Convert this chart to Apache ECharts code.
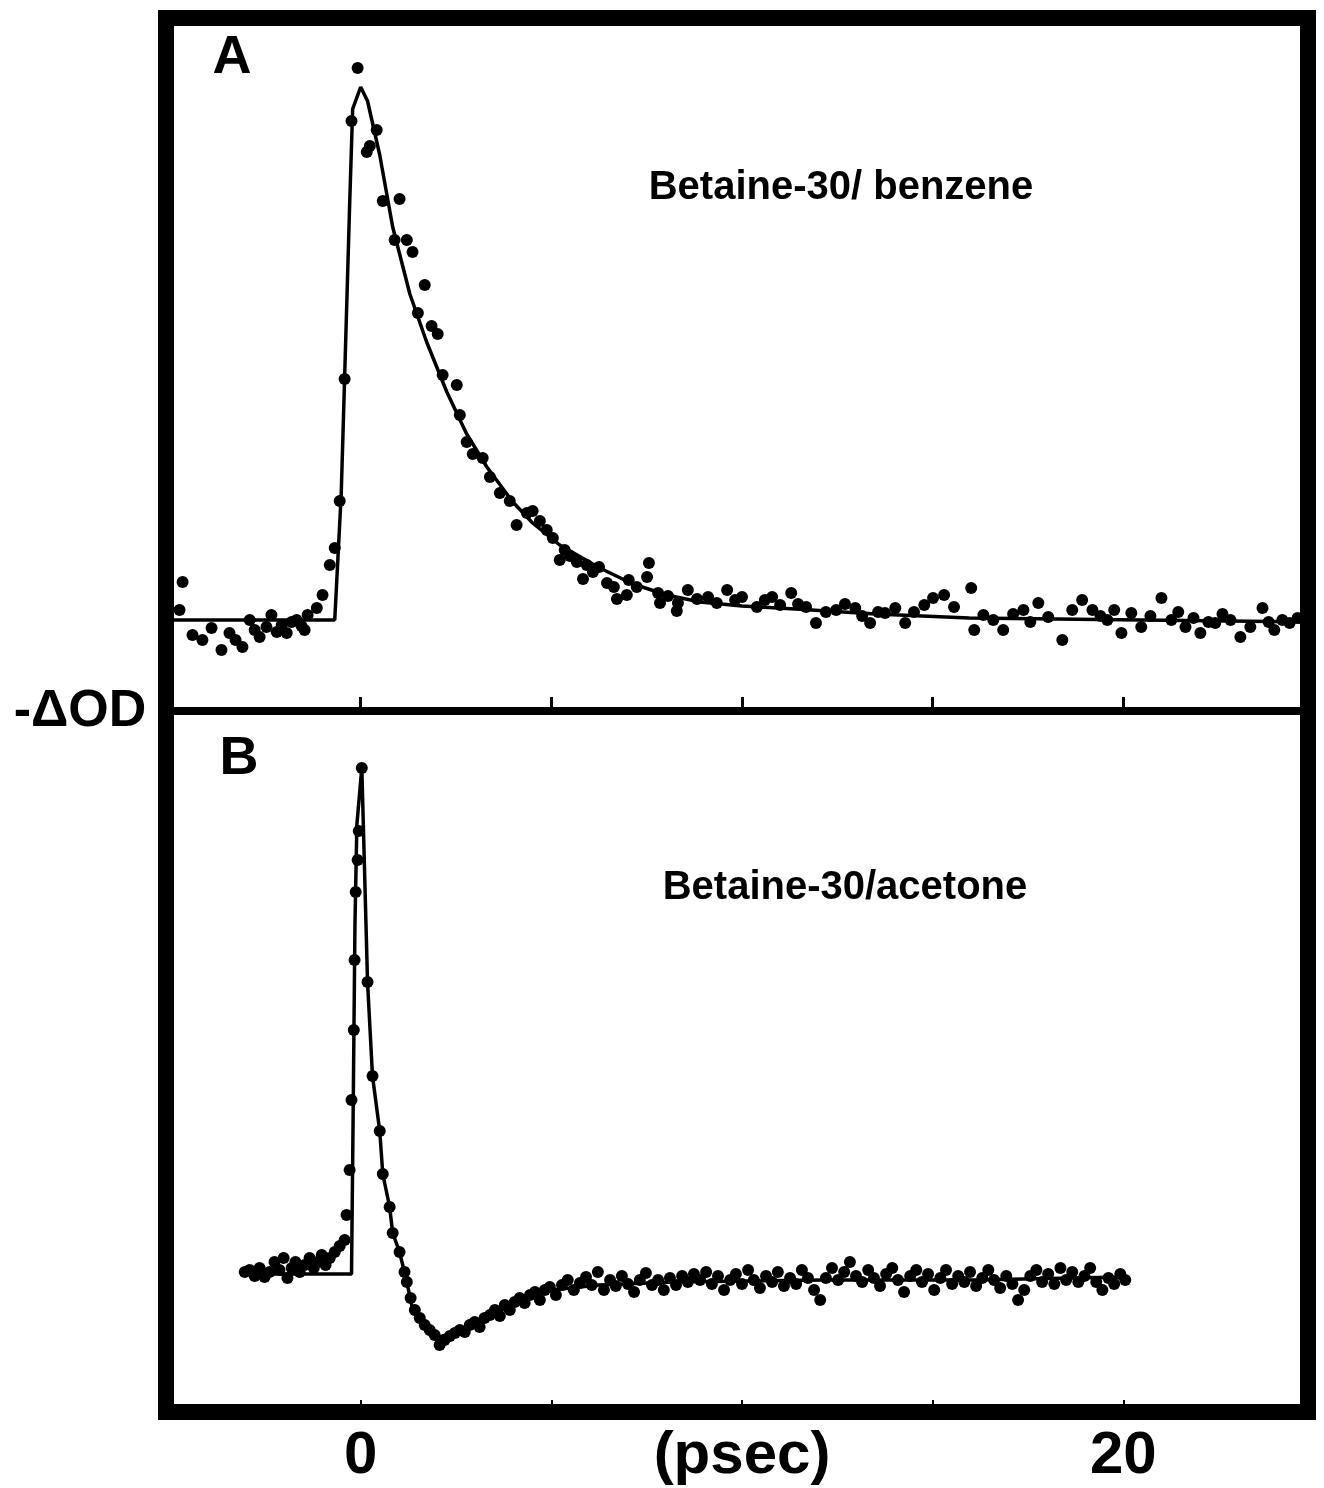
<!DOCTYPE html>
<html>
<head>
<meta charset="utf-8">
<script src="https://cdn.jsdelivr.net/npm/echarts@6/dist/echarts.min.js"></script>
<style>
html,body{margin:0;padding:0;background:#fff;}
#chart{width:1324px;height:1488px;}
</style>
</head>
<body>
<div id="chart"></div>
<script>
// ---- data (time in psec, -ΔOD in arbitrary units) ----
const xMin = -5, xMax = 25, xInterval = 5;
const xTickLabels = {0: '0', 10: '(psec)', 20: '20'};

const benzeneFit = [[-5,0],[-0.68,0],[-0.51,25.2],[-0.42,48.6],[-0.29,82.8],[-0.21,102.2],[0,106.6],[0.18,103.8],[0.5,93],[0.84,78.6],[1.29,65.2],[1.73,55.6],[2.26,45.6],[2.78,37.2],[3.31,30.6],[3.99,23.6],[4.51,19.4],[5.22,15],[6.27,10.4],[7.14,7.2],[8.03,5],[8.9,3.6],[10,2.8],[11.4,2.2],[13.5,1.2],[15.96,0.4],[20.5,0],[25,-0.4]];

const benzeneDots = [[-4.67,7.6],[-4.75,2.0],[-4.41,-3.0],[-4.15,-4.0],[-3.91,-1.6],[-3.65,-6.0],[-3.44,-2.6],[-3.28,-4.0],[-3.10,-5.4],[-2.91,0],[-2.78,-2.0],[-2.65,-3.4],[-2.47,-1.4],[-2.34,1.0],[-2.20,-2.4],[-2.07,-1.0],[-1.94,-2.6],[-1.81,-0.4],[-1.68,0],[-1.55,-1.2],[-1.47,-2.0],[-1.39,1.0],[-1.15,2.4],[-1.00,5.0],[-0.81,11.0],[-0.68,14.4],[-0.55,23.8],[-0.42,48.2],[-0.24,99.8],[-0.08,110.4],
[0.16,93.6],[0.24,94.8],[0.42,98.0],[0.58,83.8],[0.89,76.0],[1.02,84.2],[1.21,76.0],[1.36,73.6],[1.50,61.4],[1.68,67.0],[1.86,58.8],[2.02,57.2],[2.15,49.0],[2.52,47.0],[2.60,41.0],[2.78,35.6],[2.94,33.2],[3.20,32.4],[3.39,28.6],[3.65,25.4],[3.91,23.8],[4.09,19.0],[4.36,21.4],[4.51,21.8],[4.70,19.8],[4.88,18.0],[5.04,16.4],[5.22,12.0],[5.35,14.0],[5.49,12.8],[5.67,11.6],[5.83,8.2],[5.93,11.0],[6.09,9.6],[6.25,10.6],[6.46,7.4],[6.64,6.6],[6.72,4.2],[6.98,5.0],[7.03,8.0],[7.24,6.6],[7.51,8.6],[7.56,11.4],[7.80,5.4],[7.85,3.4],[8.06,4.8],[8.29,1.8],[8.32,3.4],[8.58,6.0],[8.82,4.2],[9.11,4.6],[9.34,3.4],[9.61,6.0],[9.82,4.0],[10.0,4.6],[10.39,2.6],[10.60,4.0],[10.79,4.6],[11.0,3.0],[11.29,5.4],[11.47,3.2],[11.68,2.6],[11.94,-0.6],[12.20,1.6],[12.47,2.0],[12.70,3.2],[12.97,2.4],[13.15,0.8],[13.36,-0.6],[13.57,1.6],[13.75,1.4],[14.02,2.4],[14.28,-0.6],[14.51,1.6],[14.78,3.0],[15.01,4.4],[15.30,5.0],[15.56,2.6],[16.01,6.4],[16.09,-2.0],[16.33,1.0],[16.59,0],[16.85,-2.0],[17.11,1.2],[17.38,2.0],[17.56,-0.4],[17.77,3.4],[18.03,0.6],[18.40,-4.0],[18.66,2.0],[18.92,4.0],[19.19,2.0],[19.40,0.8],[19.58,0],[19.76,2.0],[19.95,-2.6],[20.21,1.4],[20.47,-1.4],[20.71,0.8],[21.0,4.4],[21.26,0],[21.44,1.6],[21.63,-1.4],[21.84,0.4],[22.02,-2.6],[22.23,-0.4],[22.41,-0.6],[22.60,1.2],[22.81,0],[23.07,-3.4],[23.33,-1.4],[23.65,2.4],[23.81,-0.4],[23.96,-2.0],[24.17,0],[24.36,-0.6],[24.57,0.4],[24.75,0]];

const acetoneFit = [[-3.1,0.2],[-0.37,0.2],[-0.24,0.2],[-0.2,30],[-0.15,70],[-0.1,90],[0.03,101.4],[0.18,58.6],[0.31,39.8],[0.5,28.8],[0.58,20.2],[0.76,13.6],[0.84,8.4],[1.02,4.6],[1.21,-1.4],[1.36,-6.8],[1.73,-10],[2.07,-12.4],[2.41,-11.6],[2.94,-10],[3.73,-6.8],[4.17,-4.4],[5,-3],[6.25,-2],[8.2,-1.4],[12.15,-1],[16.06,-1],[20,-0.4]];

const acetoneDots = [[-3.04,0.6],[-2.91,1.0],[-2.78,-0.2],[-2.65,1.4],[-2.52,-0.4],[-2.39,0.6],[-2.26,2.6],[-2.13,1.0],[-2.02,3.4],[-1.92,-0.6],[-1.81,1.4],[-1.71,2.6],[-1.60,0.6],[-1.47,2.0],[-1.34,3.4],[-1.23,1.4],[-1.13,2.6],[-1.02,4.0],[-0.92,2.0],[-0.81,3.4],[-0.68,4.6],[-0.55,5.8],[-0.42,7.0],[-0.37,12.0],[-0.29,21.0],[-0.24,35.0],[-0.18,49.0],[-0.16,63.0],[-0.13,76.6],[-0.08,83.0],[-0.05,88.8],[0.03,101.4],
[0.18,58.6],[0.31,39.8],[0.50,28.8],[0.58,20.2],[0.76,13.6],[0.84,8.4],[1.02,4.6],[1.15,0.6],[1.21,-1.4],[1.31,-4.6],[1.42,-7.0],[1.55,-8.6],[1.68,-10.0],[1.81,-11.0],[1.94,-12.0],[2.07,-14.0],[2.20,-13.0],[2.34,-12.2],[2.47,-11.6],[2.60,-11.0],[2.73,-11.4],[2.86,-10.0],[2.99,-9.4],[3.12,-10.4],[3.25,-8.6],[3.39,-8.0],[3.52,-7.0],[3.65,-8.2],[3.78,-6.0],[3.91,-7.0],[4.04,-5.4],[4.17,-4.6],[4.30,-5.6],[4.44,-4.0],[4.57,-3.4],[4.70,-5.0],[4.83,-3.0],[4.96,-2.4],[5.12,-4.0],[5.28,-2.0],[5.43,-1.0],[5.59,-3.0],[5.75,-1.6],[5.91,-0.4],[6.06,-2.0],[6.22,0.6],[6.38,-3.0],[6.54,-1.0],[6.69,-2.2],[6.85,-0.2],[7.01,-1.8],[7.17,-3.4],[7.32,-1.0],[7.48,0.4],[7.64,-2.0],[7.80,-1.0],[7.95,-3.0],[8.11,-0.6],[8.27,-2.0],[8.43,-0.2],[8.58,-1.4],[8.74,0.2],[8.90,-1.0],[9.06,0.6],[9.21,-1.8],[9.37,-0.2],[9.53,-3.0],[9.69,-1.0],[9.84,0.2],[10.0,-1.8],[10.16,1.0],[10.31,-1.0],[10.47,-2.6],[10.63,-0.2],[10.79,-1.4],[10.94,0.6],[11.10,-2.2],[11.26,-0.6],[11.42,-1.8],[11.57,1.0],[11.73,-0.6],[11.89,-3.0],[12.05,-5.0],[12.20,-0.6],[12.36,1.4],[12.52,-1.0],[12.68,0.6],[12.83,2.6],[12.99,-0.2],[13.15,-1.4],[13.31,1.0],[13.46,-0.6],[13.62,-2.2],[13.78,0.2],[13.94,1.4],[14.09,-1.0],[14.25,-3.4],[14.41,-0.2],[14.57,1.0],[14.72,-1.4],[14.88,0.2],[15.04,-3.0],[15.20,-0.6],[15.35,1.0],[15.51,-1.8],[15.67,-0.2],[15.83,-1.4],[15.98,0.6],[16.14,-2.2],[16.30,-0.6],[16.46,1.0],[16.61,-1.0],[16.77,-2.6],[16.93,-0.2],[17.09,-1.8],[17.24,-5.0],[17.40,-3.0],[17.56,-0.2],[17.72,1.0],[17.87,-1.4],[18.03,0.2],[18.19,-1.8],[18.35,1.4],[18.50,-1.0],[18.66,0.6],[18.82,-1.4],[18.98,-0.2],[19.13,1.4],[19.29,-1.4],[19.45,-3.0],[19.61,-0.6],[19.76,-1.8],[19.92,0.2],[20.05,-1.0]];

// ---- layout ----
const GL = 170, GR = 1314;               // plot area (x scale)
const FL = 166, FR = 1308;               // drawn frame
const T = 18, MID = 711, BOT = 1412;
const FONT = '"Liberation Sans", Arial, Helvetica, sans-serif';

const chart = echarts.init(document.getElementById('chart'), null, {renderer: 'canvas'});

function xAxisBase(idx) {
  return {
    gridIndex: idx, type: 'value', min: xMin, max: xMax, interval: xInterval,
    position: 'bottom', splitLine: {show: false}
  };
}

const option = {
  animation: false,
  backgroundColor: '#fff',
  grid: [
    {left: GL, top: T, width: GR - GL, height: MID - T},
    {left: GL, top: MID, width: GR - GL, height: BOT - MID}
  ],
  xAxis: [
    Object.assign(xAxisBase(0), {
      axisLine: {show: true, onZero: false, lineStyle: {color: '#000', width: 8}},
      axisTick: {show: true, inside: true, length: 14, lineStyle: {color: '#000', width: 3}},
      axisLabel: {show: false}
    }),
    Object.assign(xAxisBase(1), {
      axisLine: {show: false, onZero: false},
      axisTick: {show: true, inside: true, length: 12, lineStyle: {color: '#000', width: 2}},
      axisLabel: {
        show: true, margin: 14, color: '#000',
        fontFamily: FONT, fontWeight: 'bold', fontSize: 60,
        formatter: v => xTickLabels[v] !== undefined ? xTickLabels[v] : ''
      }
    })
  ],
  yAxis: [
    {gridIndex: 0, type: 'value', min: -18.2, max: 120.4, show: false},
    {gridIndex: 1, type: 'value', min: -27.4, max: 112.8, show: false}
  ],
  series: [
    {type: 'line', xAxisIndex: 0, yAxisIndex: 0, data: benzeneFit, symbol: 'none',
     lineStyle: {color: '#000', width: 3.5}, z: 3},
    {type: 'scatter', xAxisIndex: 0, yAxisIndex: 0, data: benzeneDots, symbolSize: 12,
     itemStyle: {color: '#000', opacity: 1}, z: 4},
    {type: 'line', xAxisIndex: 1, yAxisIndex: 1, data: acetoneFit, symbol: 'none',
     lineStyle: {color: '#000', width: 3.5}, z: 3},
    {type: 'scatter', xAxisIndex: 1, yAxisIndex: 1, data: acetoneDots, symbolSize: 12,
     itemStyle: {color: '#000', opacity: 1}, z: 4}
  ],
  graphic: [
    {type: 'rect', z: 100, shape: {x: FL, y: T, width: FR - FL, height: BOT - T},
     style: {fill: 'none', stroke: '#000', lineWidth: 16}},
    {type: 'rect', z: 99, shape: {x: FR + 8, y: 0, width: 40, height: 1488},
     style: {fill: '#fff', stroke: 'none'}},
    {type: 'text', z: 101, x: 232, y: 58, style: {text: 'A', fill: '#000', font: 'bold 54px ' + FONT, textAlign: 'center', textVerticalAlign: 'middle'}},
    {type: 'text', z: 101, x: 239, y: 759, style: {text: 'B', fill: '#000', font: 'bold 54px ' + FONT, textAlign: 'center', textVerticalAlign: 'middle'}},
    {type: 'text', z: 101, x: 841, y: 188, style: {text: 'Betaine-30/ benzene', fill: '#000', font: 'bold 40px ' + FONT, textAlign: 'center', textVerticalAlign: 'middle'}},
    {type: 'text', z: 101, x: 845, y: 888, style: {text: 'Betaine-30/acetone', fill: '#000', font: 'bold 40px ' + FONT, textAlign: 'center', textVerticalAlign: 'middle'}},
    {type: 'text', z: 101, x: 80, y: 712, style: {text: '-ΔOD', fill: '#000', font: 'bold 52px ' + FONT, textAlign: 'center', textVerticalAlign: 'middle'}}
  ]
};
chart.setOption(option);
</script>
</body>
</html>
